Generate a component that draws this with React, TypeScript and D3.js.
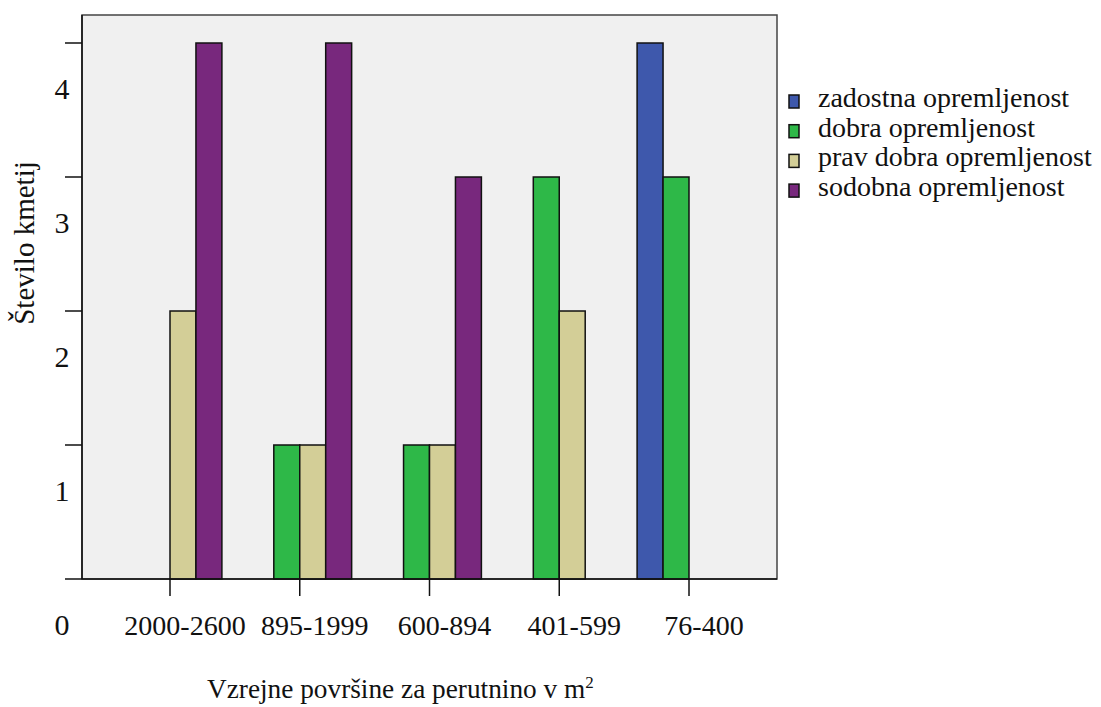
import React from "react";
import * as d3 from "d3";

const categories = ["2000-2600", "895-1999", "600-894", "401-599", "76-400"];
const seriesNames = [
  "zadostna opremljenost",
  "dobra opremljenost",
  "prav dobra opremljenost",
  "sodobna opremljenost",
];
const zadostna = [0, 0, 0, 0, 4];
const dobra = [0, 1, 1, 3, 3];
const pravDobra = [2, 1, 1, 2, 0];
const sodobna = [4, 4, 3, 0, 0];
const seriesValues = [zadostna, dobra, pravDobra, sodobna];
const colors = ["#3e58ac", "#2eb848", "#d3ce97", "#78287d"];
const yTicks = [0, 1, 2, 3, 4];

const W = 1101;
const H = 707;
const plot = { left: 82, right: 777, top: 15, bottom: 579 };
const font = '"Liberation Serif", "Times New Roman", serif';

export default function App() {
  const y = d3.scaleLinear().domain([0, 4]).range([plot.bottom, 43]);
  const x = d3.scalePoint<string>().domain(categories).range([170, 689]);
  const step = x.step();
  const slot = step * 0.2;
  const ts = { fontFamily: font };

  return (
    <svg
      width={W}
      height={H}
      style={{ position: "absolute", left: 0, top: 0, background: "#fff", fontFamily: font }}
    >
      <rect
        x={plot.left}
        y={plot.top}
        width={plot.right - plot.left}
        height={plot.bottom - plot.top}
        fill="#f0f0f0"
        stroke="#444"
        strokeWidth={1.5}
      />
      {seriesValues.map((vals, si) =>
        vals.map((v, ci) =>
          v > 0 ? (
            <rect
              key={`${si}-${ci}`}
              x={(x(categories[ci]) as number) + (si - 2) * slot}
              y={y(v)}
              width={slot}
              height={y(0) - y(v)}
              fill={colors[si]}
              stroke="#111"
              strokeWidth={1.5}
            />
          ) : null
        )
      )}
      <line x1={plot.left} x2={plot.left} y1={plot.top} y2={plot.bottom} stroke="#111" strokeWidth={1.5} />
      <line x1={plot.left} x2={plot.right} y1={plot.bottom} y2={plot.bottom} stroke="#111" strokeWidth={1.5} />
      {yTicks.map((t) => (
        <g key={t}>
          <line x1={65} x2={plot.left} y1={y(t)} y2={y(t)} stroke="#111" strokeWidth={1.5} />
          <text x={62} y={y(t) + 56} textAnchor="middle" fontSize={30} fill="#111" style={ts}>
            {t}
          </text>
        </g>
      ))}
      {categories.map((c) => (
        <g key={c}>
          <line
            x1={x(c) as number}
            x2={x(c) as number}
            y1={plot.bottom}
            y2={596}
            stroke="#111"
            strokeWidth={1.5}
          />
          <text x={(x(c) as number) + 15} y={635} textAnchor="middle" fontSize={28} fill="#111" style={ts}>
            {c}
          </text>
        </g>
      ))}
      <text x={207} y={698} textAnchor="start" fontSize={27.3} fill="#111" style={ts}>
        Vzrejne površine za perutnino v m<tspan fontSize={17} dy={-10}>2</tspan>
      </text>
      <text
        transform={`translate(34, 243) rotate(-90)`}
        textAnchor="middle"
        fontSize={29}
        fill="#111"
        style={ts}
      >
        Število kmetij
      </text>
      {seriesNames.map((n, i) => (
        <g key={n} transform={`translate(789, ${107 + i * 29.7})`}>
          <rect x={0} y={-12} width={10} height={13} fill={colors[i]} stroke="#111" strokeWidth={1.5} />
          <text x={29} y={0} fontSize={28} fill="#111" style={ts}>
            {n}
          </text>
        </g>
      ))}
    </svg>
  );
}
